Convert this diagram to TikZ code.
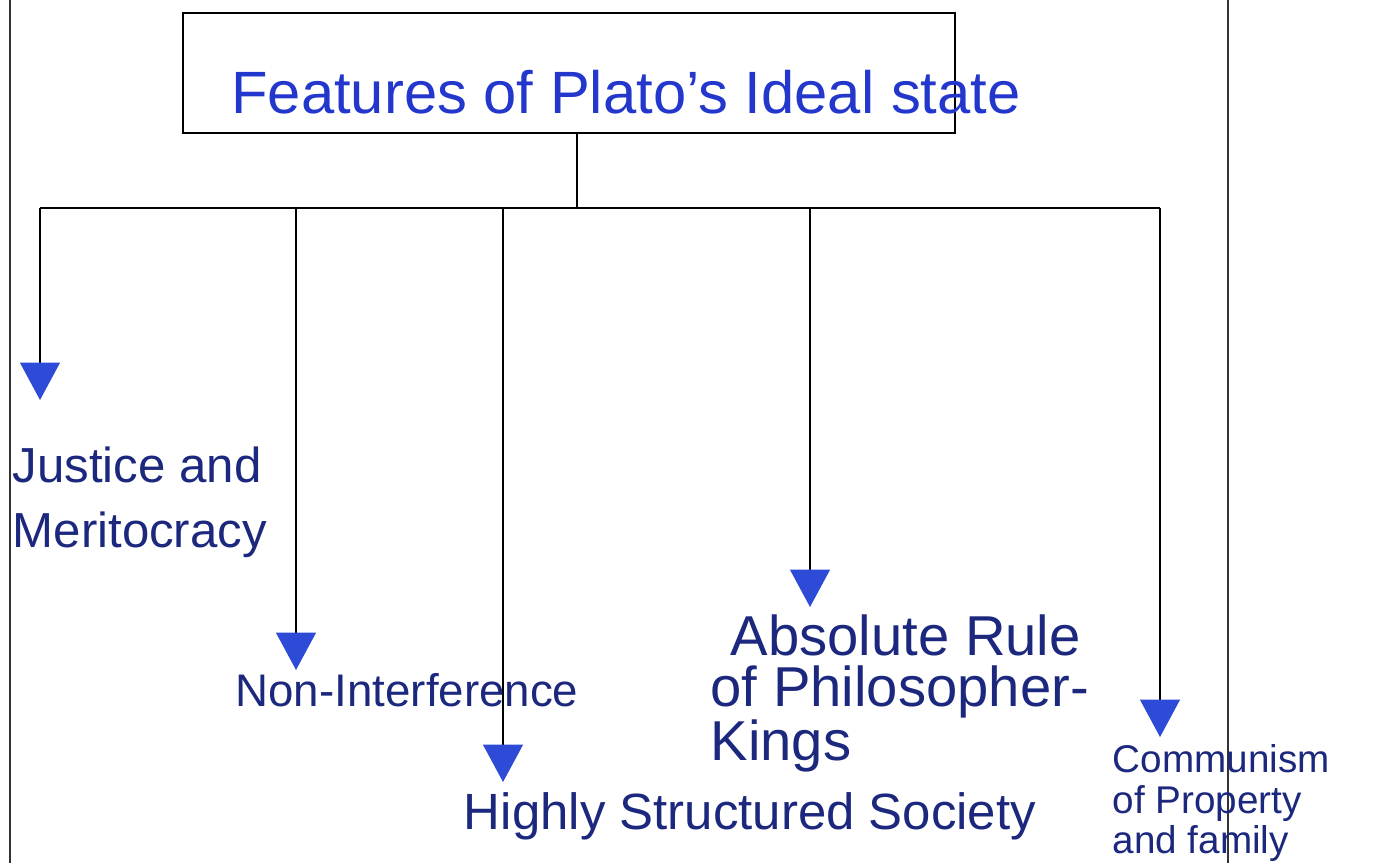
\documentclass[tikz,border=0pt]{standalone}
\usepackage{fontspec}
\setmainfont{Liberation Sans}
\usetikzlibrary{arrows.meta}

\definecolor{ink}{RGB}{28,40,125}
\definecolor{titleink}{RGB}{35,55,205}
\definecolor{tipblue}{RGB}{45,75,215}

\begin{document}
\begin{tikzpicture}[
    x = 0.02cm,
    y = -0.02cm,
    thick,
    >={Triangle[width=0.8cm,length=0.75cm,fill=tipblue,color=tipblue]},
    feature/.style = {
      text = ink,
      font = \fontsize{27}{30}\selectfont,
      inner sep = 0pt,
      align = left
    },
    box/.style = {
      draw,
      very thick,
      rectangle,
      minimum width = 15.44cm,
      minimum height = 2.4cm
    }
  ]
  \useasboundingbox (0,0) rectangle (1391,863);

  % margin lines of the page
  \draw[semithick, black!80] (10,0) -- (10,863);
  \draw[semithick, black!80] (1228,0) -- (1228,863);

  \node[box] (title) at (569,73) {};
  \node[text=titleink, font=\fontsize{34}{40}\selectfont] (titletext) at (626,92)
    {Features of Plato's Ideal state};

  \coordinate (hub) at (577,208);
  \coordinate (b1) at (40,208);
  \coordinate (b2) at (296,208);
  \coordinate (b3) at (503,208);
  \coordinate (b4) at (810,208);
  \coordinate (b5) at (1160,208);

  \coordinate (t1) at (40,400);
  \coordinate (t2) at (296,670);
  \coordinate (t3) at (503,782);
  \coordinate (t4) at (810,607);
  \coordinate (t5) at (1160,737);

  \draw (title.south -| hub) -- (hub);
  \draw (b1) -- (b5);

  \draw[->] (b1) -- (t1);
  \draw[->] (b2) -- (t2);
  \draw[->] (b3) -- (t3);
  \draw[->] (b4) -- (t4);
  \draw[->] (b5) -- (t5);

  \node[feature, anchor=north west, font=\fontsize{28}{37}\selectfont] (justice) at (12,446)
    {Justice and\\Meritocracy};
  \node[feature, font=\fontsize{26}{30}\selectfont] (nonint) at (407,690) {Non-Interference};
  \node[feature, font=\fontsize{29}{32}\selectfont] (highly) at (750,816) {Highly Structured Society};
  \node[feature, anchor=north west, font=\fontsize{32}{29}\selectfont] (absolute) at (710,614)
    {\hspace*{0.4cm}Absolute Rule\\of Philosopher-\\Kings};
  \node[feature, anchor=north west, font=\fontsize{22}{23}\selectfont] (commun) at (1112,744)
    {Communism\\of Property\\and family};

\end{tikzpicture}
\end{document}
